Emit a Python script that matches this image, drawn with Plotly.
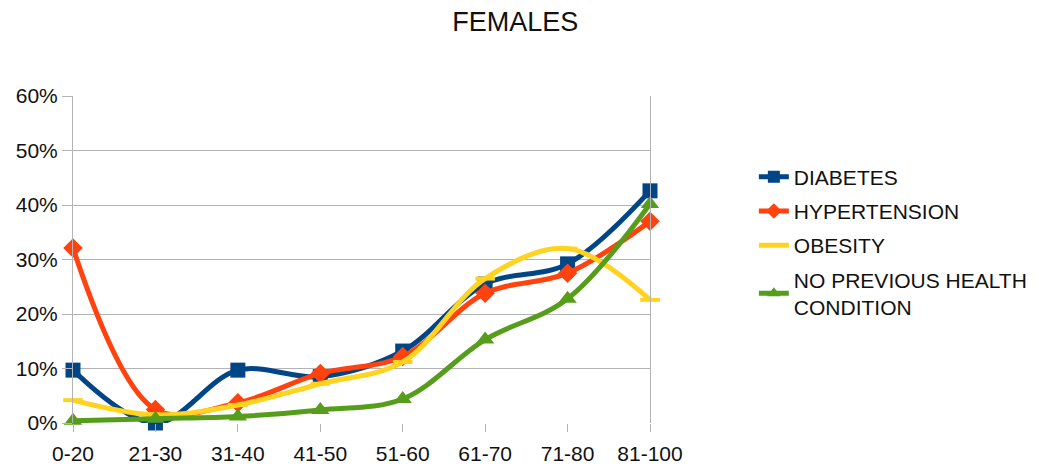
import plotly.graph_objects as go

age_groups = ["0-20", "21-30", "31-40", "41-50", "51-60", "61-70", "71-80", "81-100"]

diabetes = [0.097, 0.0, 0.097, 0.085, 0.132, 0.255, 0.292, 0.426]
hypertension = [0.321, 0.025, 0.037, 0.091, 0.122, 0.238, 0.275, 0.370]
obesity = [0.042, 0.015, 0.033, 0.072, 0.112, 0.265, 0.320, 0.226]
no_condition = [0.004, 0.008, 0.012, 0.024, 0.044, 0.153, 0.228, 0.402]

series = [
    ("DIABETES", diabetes, "#004586", "square", 15),
    ("HYPERTENSION", hypertension, "#ff420e", "diamond", 15),
    ("OBESITY", obesity, "#ffd320", "line-ew", 14),
    ("NO PREVIOUS HEALTH<br>CONDITION", no_condition, "#579d1c", "triangle-up", 16),
]

fig = go.Figure()
for i, (name, values, color, symbol, size) in enumerate(series):
    fig.add_trace(go.Scatter(
        x=age_groups,
        y=values,
        name=name,
        legendgroup=f"g{i}",
        mode="lines+markers",
        line=dict(color=color, width=5, shape="spline", smoothing=1.0),
        marker=dict(symbol=symbol, size=size, color=color,
                    line=dict(color=color, width=4 if symbol == "line-ew" else 0)),
        cliponaxis=False,
    ))

fig.update_layout(
    width=1056,
    height=468,
    margin=dict(l=73, r=406, t=96, b=45),
    paper_bgcolor="white",
    plot_bgcolor="white",
    font=dict(family="Liberation Sans, Arial, sans-serif", color="#111111"),
    title=dict(text="FEMALES", x=0.488, xanchor="center", y=0.955, yanchor="middle",
               font=dict(size=27, color="#111111")),
    legend=dict(
        x=1.18, xanchor="left", y=0.815, yanchor="top",
        font=dict(size=21, color="#111111"),
        tracegroupgap=4, itemsizing="constant",
        bgcolor="rgba(0,0,0,0)",
    ),
    showlegend=True,
)

fig.update_xaxes(
    type="category",
    range=[0, 7],
    automargin=False,
    showgrid=False,
    showline=False,
    zeroline=False,
    ticks="outside",
    ticklen=8,
    tickcolor="#b3b3b3",
    ticklabelstandoff=4,
    tickfont=dict(size=21, color="#111111"),
)

fig.update_yaxes(
    range=[0, 0.6],
    dtick=0.1,
    tickformat=".0%",
    automargin=False,
    showgrid=True,
    gridcolor="#b3b3b3",
    gridwidth=1,
    zeroline=False,
    showline=True,
    linecolor="#b3b3b3",
    mirror=True,
    ticks="outside",
    ticklen=10,
    tickcolor="#b3b3b3",
    tickfont=dict(size=21, color="#111111"),
)

fig.write_html("out.html")
